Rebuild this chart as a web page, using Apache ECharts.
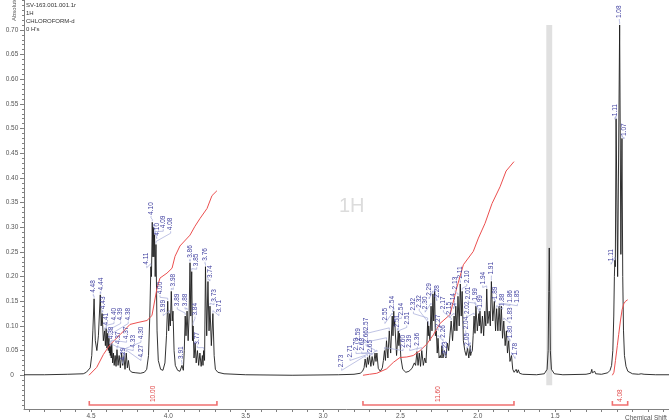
<!DOCTYPE html>
<html>
<head>
<meta charset="utf-8">
<script src="https://cdn.jsdelivr.net/npm/echarts@6/dist/echarts.min.js"></script>
<style>
  html, body { margin: 0; padding: 0; background: #fff; }
  #chart { width: 669px; height: 420px; }
</style>
</head>
<body>
<div id="chart"></div>
<script>
// Sample header
const sampleInfo = ['SV-163.001.001.1r', '1H', 'CHLOROFORM-d', "0 H's"];

// Axis ranges and tick labels
const shiftRange = [0.764, 4.933];
const intensityRange = [-0.0684, 0.7606];
const shiftLabels = [4.5, 4.0, 3.5, 3.0, 2.5, 2.0, 1.5];
const intensityLabels = [0, 0.05, 0.10, 0.15, 0.20, 0.25, 0.30, 0.35, 0.40, 0.45, 0.50, 0.55, 0.60, 0.65, 0.70];

// Picked peaks: [shift (ppm), intensity]
const pickedPeaks = [
  [4.480, 0.155], [4.440, 0.163], [4.428, 0.125], [4.412, 0.090], [4.402, 0.095],
  [4.392, 0.085], [4.384, 0.075], [4.378, 0.062], [4.372, 0.058], [4.366, 0.065],
  [4.332, 0.052], [4.302, 0.045], [4.288, 0.040], [4.272, 0.045],
  [4.113, 0.220], [4.104, 0.310], [4.097, 0.300], [4.089, 0.285], [4.080, 0.265],
  [4.004, 0.150], [3.992, 0.125], [3.981, 0.170], [3.912, 0.020], [3.891, 0.120],
  [3.879, 0.130], [3.860, 0.228], [3.849, 0.210], [3.840, 0.100], [3.772, 0.050],
  [3.760, 0.220], [3.744, 0.190], [3.731, 0.140], [3.712, 0.125],
  [2.728, 0.033], [2.713, 0.036], [2.700, 0.040], [2.683, 0.038], [2.664, 0.045],
  [2.652, 0.045], [2.603, 0.050], [2.590, 0.070], [2.572, 0.090], [2.553, 0.120],
  [2.543, 0.130], [2.537, 0.110], [2.514, 0.090], [2.506, 0.085], [2.393, 0.048],
  [2.362, 0.050], [2.324, 0.110], [2.317, 0.100], [2.302, 0.140], [2.290, 0.165],
  [2.279, 0.170], [2.268, 0.090], [2.257, 0.075], [2.232, 0.060], [2.172, 0.110],
  [2.153, 0.120], [2.142, 0.140], [2.128, 0.160], [2.113, 0.185], [2.101, 0.170],
  [2.048, 0.060], [2.043, 0.045], [2.024, 0.120], [2.012, 0.140], [1.993, 0.125],
  [1.986, 0.130], [1.942, 0.175], [1.912, 0.190], [1.893, 0.150], [1.878, 0.135],
  [1.862, 0.140], [1.848, 0.140], [1.832, 0.110], [1.800, 0.070], [1.782, 0.040],
  [1.114, 0.233], [1.106, 0.520], [1.083, 0.710], [1.068, 0.480]
];

// Where each peak label sits: [shift, intensity at the foot of the text]
const callouts = [
  [4.485, 0.167], [4.437, 0.172], [4.424, 0.134], [4.400, 0.101], [4.351, 0.111],
  [4.308, 0.111], [4.259, 0.111], [4.371, 0.073], [4.327, 0.063], [4.270, 0.073],
  [4.227, 0.056], [4.177, 0.073], [4.295, 0.030], [4.177, 0.036],
  [4.140, 0.224], [4.112, 0.325], [4.075, 0.283], [4.033, 0.298], [3.985, 0.294],
  [4.054, 0.164], [4.033, 0.127], [3.968, 0.180], [3.914, 0.033], [3.942, 0.140],
  [3.892, 0.140], [3.860, 0.238], [3.817, 0.221], [3.828, 0.121], [3.813, 0.062],
  [3.763, 0.232], [3.731, 0.197], [3.705, 0.149], [3.673, 0.127],
  [2.880, 0.016], [2.826, 0.036], [2.787, 0.050], [2.750, 0.050], [2.722, 0.066],
  [2.696, 0.046], [2.483, 0.056], [2.771, 0.070], [2.718, 0.091], [2.600, 0.111],
  [2.550, 0.135], [2.494, 0.121], [2.520, 0.097], [2.459, 0.103], [2.440, 0.056],
  [2.390, 0.060], [2.416, 0.131], [2.378, 0.137], [2.340, 0.134], [2.314, 0.161],
  [2.265, 0.157], [2.255, 0.097], [2.225, 0.076], [2.210, 0.043], [2.222, 0.134],
  [2.185, 0.123], [2.157, 0.141], [2.146, 0.174], [2.114, 0.196], [2.071, 0.187],
  [2.071, 0.060], [2.078, 0.093], [2.071, 0.124], [2.062, 0.154], [2.018, 0.151],
  [1.986, 0.137], [1.968, 0.184], [1.912, 0.204], [1.886, 0.154], [1.839, 0.140],
  [1.792, 0.147], [1.744, 0.147], [1.792, 0.112], [1.792, 0.075], [1.759, 0.040],
  [1.138, 0.231], [1.113, 0.525], [1.085, 0.724], [1.055, 0.485]
];

// Remaining points of the trace: baseline, valleys, shoulders, solvent lines
const traceShape = [
  [4.933, 0.001], [4.80, 0.001], [4.65, 0.002], [4.55, 0.003], [4.53, 0.006],
  [4.505, 0.015], [4.495, 0.040], [4.488, 0.090], [4.472, 0.070], [4.462, 0.050],
  [4.452, 0.080], [4.434, 0.100], [4.420, 0.070], [4.407, 0.060], [4.397, 0.055],
  [4.388, 0.050], [4.381, 0.045], [4.375, 0.040], [4.369, 0.035], [4.360, 0.025],
  [4.355, 0.045], [4.350, 0.020], [4.344, 0.040], [4.338, 0.018], [4.325, 0.020],
  [4.318, 0.040], [4.310, 0.015], [4.295, 0.020], [4.280, 0.012], [4.265, 0.015],
  [4.258, 0.030], [4.250, 0.010], [4.235, 0.006], [4.210, 0.005], [4.180, 0.004],
  [4.155, 0.006], [4.140, 0.012], [4.128, 0.040], [4.120, 0.120], [4.109, 0.200],
  [4.100, 0.240], [4.093, 0.240], [4.085, 0.200], [4.073, 0.090], [4.065, 0.030],
  [4.050, 0.012], [4.035, 0.010], [4.022, 0.025], [4.012, 0.080], [3.998, 0.090],
  [3.987, 0.100], [3.975, 0.110], [3.970, 0.130], [3.963, 0.050], [3.955, 0.020],
  [3.940, 0.010], [3.925, 0.008], [3.903, 0.010], [3.897, 0.050], [3.886, 0.080],
  [3.872, 0.070], [3.866, 0.120], [3.855, 0.120], [3.844, 0.070], [3.834, 0.035],
  [3.827, 0.065], [3.820, 0.025], [3.812, 0.050], [3.804, 0.020], [3.796, 0.045],
  [3.788, 0.018], [3.780, 0.040], [3.776, 0.020], [3.766, 0.030], [3.752, 0.080],
  [3.737, 0.090], [3.722, 0.060], [3.704, 0.040], [3.696, 0.012], [3.680, 0.006],
  [3.640, 0.003], [3.500, 0.001], [3.200, 0.000], [2.900, 0.001], [2.800, 0.002],
  [2.760, 0.004], [2.745, 0.008], [2.735, 0.015], [2.720, 0.016], [2.707, 0.022],
  [2.691, 0.018], [2.674, 0.020], [2.658, 0.028], [2.643, 0.014], [2.630, 0.008],
  [2.617, 0.015], [2.610, 0.030], [2.597, 0.030], [2.581, 0.035], [2.563, 0.045],
  [2.548, 0.080], [2.540, 0.100], [2.525, 0.040], [2.510, 0.060], [2.497, 0.035],
  [2.485, 0.012], [2.465, 0.006], [2.445, 0.008], [2.425, 0.014], [2.410, 0.025],
  [2.402, 0.020], [2.386, 0.020], [2.378, 0.045], [2.370, 0.018], [2.352, 0.020],
  [2.343, 0.035], [2.335, 0.025], [2.329, 0.060], [2.320, 0.080], [2.309, 0.070],
  [2.296, 0.090], [2.285, 0.110], [2.274, 0.080], [2.262, 0.045], [2.250, 0.035],
  [2.242, 0.040], [2.237, 0.035], [2.225, 0.035], [2.215, 0.050], [2.206, 0.035],
  [2.196, 0.065], [2.188, 0.050], [2.180, 0.080], [2.163, 0.070], [2.148, 0.090],
  [2.135, 0.090], [2.120, 0.100], [2.107, 0.120], [2.093, 0.070], [2.084, 0.050],
  [2.075, 0.040], [2.066, 0.055], [2.058, 0.035], [2.046, 0.040], [2.035, 0.050],
  [2.030, 0.080], [2.018, 0.085], [2.003, 0.090], [1.990, 0.100], [1.978, 0.085],
  [1.970, 0.120], [1.962, 0.080], [1.955, 0.130], [1.948, 0.100], [1.935, 0.105],
  [1.926, 0.130], [1.919, 0.100], [1.903, 0.110], [1.885, 0.090], [1.870, 0.090],
  [1.855, 0.090], [1.840, 0.075], [1.823, 0.060], [1.815, 0.090], [1.808, 0.045],
  [1.792, 0.028], [1.774, 0.012], [1.765, 0.006], [1.752, 0.012], [1.745, 0.005],
  [1.738, 0.011], [1.730, 0.004], [1.710, 0.002], [1.620, 0.001], [1.570, 0.003],
  [1.552, 0.012], [1.545, 0.050], [1.541, 0.170], [1.538, 0.258], [1.535, 0.170],
  [1.531, 0.050], [1.524, 0.012], [1.505, 0.003], [1.450, 0.001], [1.300, 0.002],
  [1.270, 0.004], [1.263, 0.012], [1.259, 0.005], [1.254, 0.009], [1.249, 0.004],
  [1.244, 0.008], [1.238, 0.003], [1.200, 0.002], [1.160, 0.005], [1.145, 0.010],
  [1.135, 0.020], [1.127, 0.050], [1.121, 0.120], [1.117, 0.200], [1.111, 0.220],
  [1.096, 0.200], [1.075, 0.245], [1.063, 0.200], [1.058, 0.090], [1.052, 0.040],
  [1.042, 0.018], [1.030, 0.008], [1.000, 0.003], [0.960, 0.002], [0.948, 0.006],
  [0.944, 0.003], [0.935, 0.005], [0.925, 0.002], [0.850, 0.001], [0.764, 0.001]
];

// Integration ranges and their normalised areas
const integralRanges = [[4.511, 3.686], [2.742, 1.766], [1.130, 1.031]];
const integralValues = [10.00, 11.60, 4.08];

// Running integral curves
const integralCurveA = [
  [4.513, 0.000], [4.463, 0.016], [4.420, 0.042], [4.377, 0.062], [4.313, 0.082],
  [4.248, 0.103], [4.196, 0.107], [4.138, 0.111], [4.106, 0.121], [4.073, 0.177],
  [4.054, 0.197], [4.009, 0.207], [3.976, 0.217], [3.957, 0.241], [3.925, 0.262],
  [3.860, 0.284], [3.828, 0.302], [3.795, 0.318], [3.750, 0.338], [3.718, 0.364],
  [3.686, 0.374]
];
const integralCurveB = [
  [2.742, 0.000], [2.700, 0.002], [2.653, 0.004], [2.589, 0.013], [2.546, 0.026],
  [2.503, 0.036], [2.459, 0.037], [2.417, 0.040], [2.373, 0.050], [2.330, 0.063],
  [2.287, 0.082], [2.244, 0.105], [2.179, 0.123], [2.136, 0.177], [2.093, 0.224],
  [2.029, 0.251], [1.996, 0.278], [1.953, 0.308], [1.908, 0.348], [1.856, 0.382],
  [1.817, 0.414], [1.766, 0.433]
];
const integralCurveC = [
  [1.130, 0.000], [1.120, 0.006], [1.110, 0.030], [1.098, 0.060], [1.089, 0.083],
  [1.078, 0.110], [1.067, 0.133], [1.056, 0.145], [1.045, 0.150], [1.031, 0.153]
];

// Solvent region greyed out
const solventBand = [1.557, 1.519];

const spectrum = pickedPeaks.concat(traceShape).sort((a, b) => b[0] - a[0]);
const calloutData = pickedPeaks.map((p, i) => [p[0], p[1], callouts[i][0], callouts[i][1]]);
const integralData = integralRanges.map((r, i) => [r[0], r[1], integralValues[i]]);

const minorShiftTicks = [];
for (let i = 8; i <= 49; i++) minorShiftTicks.push(i / 10);
const minorIntensityTicks = [];
for (let i = -6; i <= 76; i++) minorIntensityTicks.push(i / 100);

const FONT = 'Liberation Sans, Arial, sans-serif';
const AXIS_GREY = '#808080';

function renderCallout(params, api) {
  const pk = api.coord([api.value(0), api.value(1)]);
  const lb = api.coord([api.value(2), api.value(3)]);
  const text = api.value(0).toFixed(2);
  return {
    type: 'group',
    children: [
      {
        type: 'polyline',
        shape: { points: [[lb[0], lb[1] + 1], [lb[0], lb[1] + 3], [pk[0], pk[1] - 3], [pk[0], pk[1] - 1]] },
        style: { stroke: '#a4a9d8', lineWidth: 0.7, fill: null }
      },
      {
        type: 'text', x: lb[0], y: lb[1], rotation: Math.PI / 2,
        style: { text: text, x: 0, y: 0, align: 'left', verticalAlign: 'middle',
                 fontSize: 6.5, fontFamily: FONT, fill: '#4040a0' }
      }
    ]
  };
}

function renderIntegral(params, api) {
  const s = api.value(0), e = api.value(1);
  const axisY = api.coord([s, intensityRange[0]])[1];
  const a = api.coord([s, 0])[0];
  const b = api.coord([e, 0])[0];
  const yb = axisY - 4;
  return {
    type: 'group',
    children: [
      {
        type: 'polyline',
        shape: { points: [[a, yb - 4], [a, yb], [b, yb], [b, yb - 4]] },
        style: { stroke: '#f07070', lineWidth: 1.6, fill: null }
      },
      {
        type: 'text', x: (a + b) / 2, y: yb - 3, rotation: Math.PI / 2,
        style: { text: api.value(2).toFixed(2), x: 0, y: 0, align: 'left', verticalAlign: 'middle',
                 fontSize: 6.5, fontFamily: FONT, fill: '#e04848' }
      }
    ]
  };
}

function renderBand(params, api) {
  const top = api.coord([api.value(0), 0.71]);
  const base = api.coord([api.value(1), 0]);
  return {
    type: 'rect',
    shape: { x: top[0], y: top[1], width: base[0] - top[0], height: base[1] - top[1] + 10 },
    style: { fill: '#e0e0e0' }
  };
}

const chart = echarts.init(document.getElementById('chart'), null, { renderer: 'canvas' });
chart.setOption({
  animation: false,
  backgroundColor: '#fff',
  grid: { left: 24, right: 0, top: 0, bottom: 8, containLabel: false },
  xAxis: {
    type: 'value', inverse: true, min: shiftRange[0], max: shiftRange[1],
    axisLine: { onZero: false, lineStyle: { color: AXIS_GREY, width: 1 } },
    axisTick: { customValues: minorShiftTicks, length: 3, lineStyle: { color: AXIS_GREY } },
    axisLabel: { customValues: shiftLabels, margin: 4, fontSize: 6.5, color: '#555', fontFamily: FONT,
                 formatter: v => v.toFixed(1) },
    splitLine: { show: false }
  },
  yAxis: [
    {
      type: 'value', min: intensityRange[0], max: intensityRange[1],
      axisLine: { show: true, onZero: false, lineStyle: { color: AXIS_GREY, width: 1 } },
      axisTick: { customValues: intensityLabels, length: 4, lineStyle: { color: AXIS_GREY } },
      axisLabel: { customValues: intensityLabels, margin: 12, align: 'center', fontSize: 6.5,
                   color: '#555', fontFamily: FONT, formatter: v => (v === 0 ? '0' : v.toFixed(2)) },
      splitLine: { show: false }
    },
    {
      type: 'value', min: intensityRange[0], max: intensityRange[1], position: 'left',
      axisLine: { show: false, onZero: false },
      axisTick: { customValues: minorIntensityTicks, length: 2, lineStyle: { color: AXIS_GREY } },
      axisLabel: { show: false },
      splitLine: { show: false }
    }
  ],
  graphic: [
    { type: 'text', left: 26, top: 1,
      style: { text: sampleInfo.join('\n'), fontSize: 6, lineHeight: 8, fill: '#333', fontFamily: FONT } },
    { type: 'text', x: 14, y: 21, rotation: Math.PI / 2,
      style: { text: 'Absolute', fontSize: 6, fill: '#555', fontFamily: FONT, align: 'left', verticalAlign: 'middle' } },
    { type: 'text', left: 339, top: 196,
      style: { text: '1H', fontSize: 20, fill: '#dcdcdc', fontFamily: FONT } },
    { type: 'text', left: 625, top: 415,
      style: { text: 'Chemical Shift (ppm)', fontSize: 6.5, fill: '#555', fontFamily: FONT } }
  ],
  series: [
    {
      type: 'custom', name: 'solvent', renderItem: renderBand, z: 1, silent: true,
      data: [solventBand], encode: { x: [0, 1] }
    },
    {
      type: 'line', name: 'spectrum', data: spectrum, showSymbol: false, symbol: 'none', z: 3,
      lineStyle: { color: '#1c1c1c', width: 0.9 }, silent: true
    },
    ...[integralCurveA, integralCurveB, integralCurveC].map(c => ({
      type: 'line', data: c, showSymbol: false, symbol: 'none', z: 4, silent: true,
      lineStyle: { color: '#ec4f4f', width: 1 }
    })),
    {
      type: 'custom', name: 'integrals', renderItem: renderIntegral, z: 4, silent: true,
      data: integralData, encode: { x: [0, 1] }, clip: false
    },
    {
      type: 'custom', name: 'peakLabels', renderItem: renderCallout, z: 5, silent: true,
      data: calloutData, encode: { x: [0, 2], y: [1, 3] }, clip: false
    }
  ]
});
</script>
</body>
</html>
